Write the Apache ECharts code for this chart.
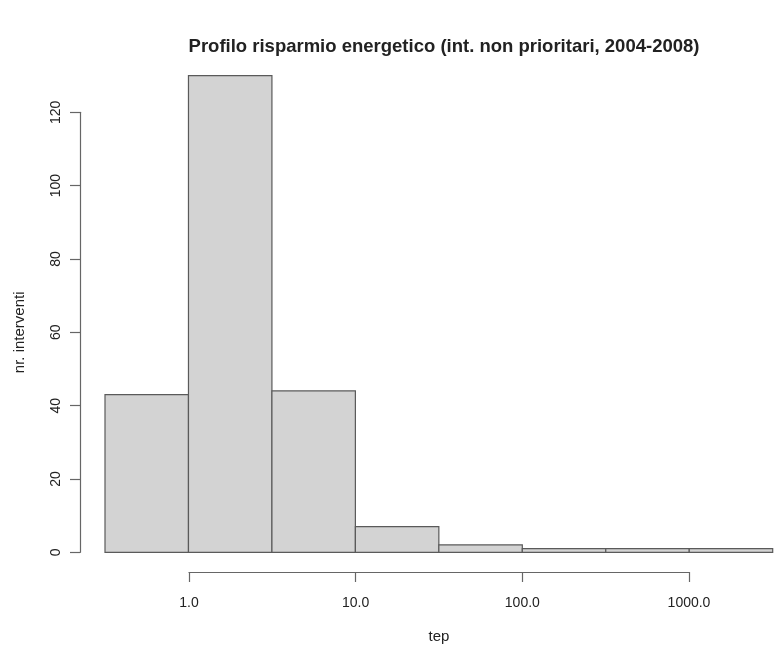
<!DOCTYPE html>
<html>
<head>
<meta charset="utf-8">
<script src="https://cdn.jsdelivr.net/npm/echarts@6/dist/echarts.min.js"></script>
<style>
  html, body { margin: 0; padding: 0; background: #fff; }
  #chart { width: 779px; height: 653px; }
</style>
</head>
<body>
<div id="chart"></div>
<script>
// histogram of log10(tep), breaks every half decade
var logBreaks = [-0.5, 0, 0.5, 1, 1.5, 2, 2.5, 3, 3.5];
var counts = [43, 130, 44, 7, 2, 1, 1, 1];
var xTickLabels = ['1.0', '10.0', '100.0', '1000.0'];

var titleText = 'Profilo risparmio energetico (int. non prioritari, 2004-2008)';
var font = 'Liberation Sans';

var bins = [];
for (var i = 0; i < counts.length; i++) {
  bins.push([logBreaks[i], logBreaks[i + 1], counts[i]]);
}

var chart = echarts.init(document.getElementById('chart'));

chart.setOption({
  animation: false,
  backgroundColor: '#fff',
  title: {
    text: titleText,
    left: 439,
    top: 32,
    textAlign: 'center',
    textStyle: { fontFamily: font, fontWeight: 'bold', fontSize: 18.5, color: '#222' }
  },
  grid: [
    // data region: x -0.5..3.5, y 0..120
    { left: 105, right: 6.3, top: 112.3, bottom: 100.7 },
    // x axis only spans the labelled decades
    { left: 189, right: 90, top: 112.3, bottom: 81 }
  ],
  xAxis: [
    { gridIndex: 0, type: 'value', min: logBreaks[0], max: logBreaks[logBreaks.length - 1], show: false },
    {
      gridIndex: 1, type: 'value', min: 0, max: 3, interval: 1,
      name: 'tep', nameLocation: 'middle', nameGap: 57,
      nameTextStyle: { fontFamily: font, fontSize: 15, color: '#222' },
      axisLine: { onZero: false, lineStyle: { color: '#666', width: 1.2 } },
      axisTick: { length: 10, lineStyle: { color: '#666', width: 1.2 } },
      axisLabel: {
        margin: 24, fontFamily: font, fontSize: 14, color: '#222',
        formatter: function (v) { return xTickLabels[Math.round(v)]; }
      },
      splitLine: { show: false }
    }
  ],
  yAxis: [
    {
      gridIndex: 0, type: 'value', min: 0, max: 120, interval: 20, offset: 25,
      name: 'nr. interventi', nameLocation: 'middle', nameGap: 53,
      nameTextStyle: { fontFamily: font, fontSize: 15, color: '#222' },
      axisLine: { show: true, onZero: false, lineStyle: { color: '#666', width: 1.2 } },
      axisTick: { show: true, length: 10, lineStyle: { color: '#666', width: 1.2 } },
      axisLabel: { rotate: 90, margin: 17, fontFamily: font, fontSize: 14, color: '#222' },
      splitLine: { show: false }
    },
    { gridIndex: 1, type: 'value', min: 0, max: 120, show: false }
  ],
  series: [{
    type: 'custom',
    xAxisIndex: 0,
    yAxisIndex: 0,
    clip: false,
    data: bins,
    renderItem: function (params, api) {
      var p0 = api.coord([api.value(0), api.value(2)]);
      var p1 = api.coord([api.value(1), 0]);
      return {
        type: 'rect',
        shape: { x: p0[0], y: p0[1], width: p1[0] - p0[0], height: p1[1] - p0[1] },
        style: { fill: '#d3d3d3', stroke: '#5a5a5a', lineWidth: 1.2 }
      };
    }
  }]
});
</script>
</body>
</html>
